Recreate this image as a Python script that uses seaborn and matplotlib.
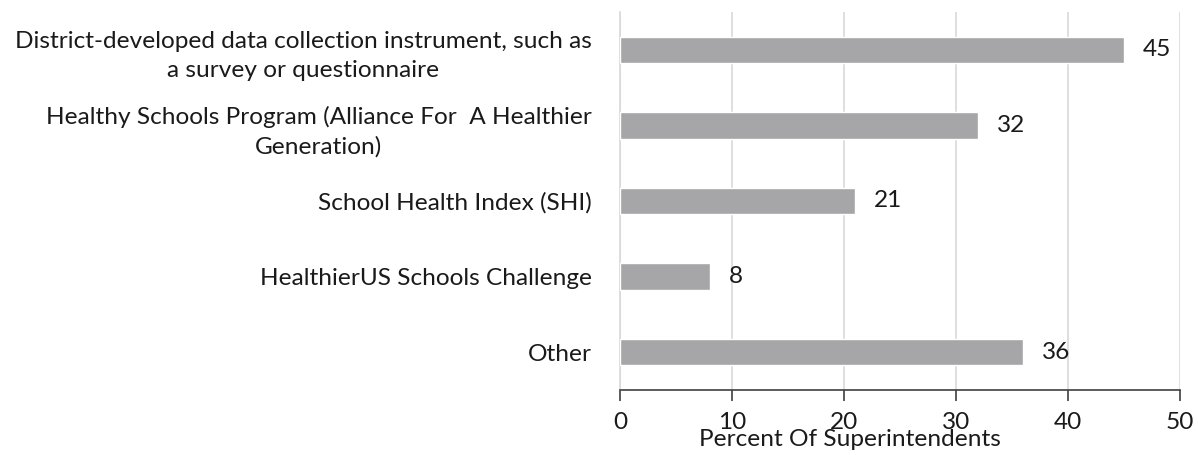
import pandas as pd
import seaborn as sns
import matplotlib.pyplot as plt

categories = [
    "District-developed data collection instrument, such as\na survey or questionnaire",
    "Healthy Schools Program (Alliance For  A Healthier\nGeneration)",
    "School Health Index (SHI)",
    "HealthierUS Schools Challenge",
    "Other",
]
values = [45, 32, 21, 8, 36]

df = pd.DataFrame({"Tool": categories, "Percent": values})

sns.set_style("white")
plt.rcParams["font.family"] = ["Lato", "DejaVu Sans"]

FS = 17.6

fig = plt.figure(figsize=(11.98, 4.55), dpi=100)
ax = fig.add_axes([620 / 1198, 1 - 390 / 455, 560 / 1198, 378 / 455])

sns.barplot(data=df, x="Percent", y="Tool", color="#A6A6A9", width=0.35,
            saturation=1, ax=ax, zorder=3)

# value labels next to bars
for i, v in enumerate(values):
    ax.text(v + 1.7, i, str(v), va="center", ha="left", fontsize=FS, color="#1a1a1a")

ax.set_xlim(0, 50)
ax.set_ylim(4.5, -0.5)
ax.set_xticks(range(0, 51, 10))
ax.xaxis.grid(True, color="#D9D9D9", linewidth=1.2, zorder=0)
ax.yaxis.grid(False)

for s in ["top", "right"]:
    ax.spines[s].set_visible(False)
ax.spines["left"].set_color("#D9D9D9")
ax.spines["left"].set_linewidth(1.2)
ax.spines["bottom"].set_color("#404040")
ax.spines["bottom"].set_linewidth(1.2)

ax.tick_params(axis="x", bottom=True, length=8, width=1.2, color="#404040",
               labelsize=FS, pad=8, labelcolor="#1a1a1a")
ax.tick_params(axis="y", left=False, labelsize=FS, pad=17, labelcolor="#1a1a1a")
for lab in ax.get_yticklabels():
    lab.set_multialignment("center")
    lab.set_linespacing(1.5)

ax.set_ylabel("")
ax.set_xlabel("Percent Of Superintendents", fontsize=FS, color="#1a1a1a")
ax.xaxis.set_label_coords(0.41, -0.104)

fig.savefig("out.png", dpi=100)
